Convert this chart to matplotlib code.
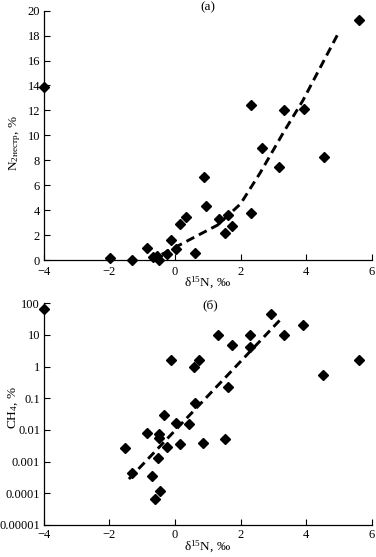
import matplotlib
matplotlib.use("Agg")
import matplotlib.pyplot as plt
from matplotlib.ticker import FixedLocator, FixedFormatter, NullLocator

plt.rcParams['font.family'] = ['Liberation Serif', 'DejaVu Serif']
plt.rcParams['mathtext.fontset'] = 'custom'
plt.rcParams['mathtext.rm'] = 'Liberation Serif'
plt.rcParams['mathtext.it'] = 'Liberation Serif:italic'

# panel (a): d15N vs N2
n2_x = [-4.0, 2.32, 3.33, 3.92, 5.6, 2.65, 3.18, 4.53, 0.9, 0.95, 2.32, 1.63,
        1.33, 1.75, 1.53, 0.35, 0.16, -0.12, 0.04, 0.6, -0.23, -0.85, -0.68,
        -0.55, -0.47, -1.3, -1.97]
n2_y = [13.9, 12.45, 12.05, 12.15, 19.25, 9.0, 7.5, 8.3, 6.65, 4.35, 3.75, 3.65,
        3.25, 2.75, 2.2, 3.45, 2.85, 1.6, 0.9, 0.6, 0.5, 1.0, 0.27,
        0.35, 0.02, 0.03, 0.15]
n2_trend_x = [-0.4, 0.5, 1.3, 2.0, 2.6, 3.3, 3.9, 4.6, 5.0]
n2_trend_y = [0.45, 1.7, 2.8, 4.5, 7.0, 10.2, 12.8, 16.3, 18.3]

# panel (б): d15N vs CH4
ch4_x = [-4.0, 2.93, 3.9, 3.32, 1.32, 2.3, 2.28, 1.74, 5.6, -0.12, 0.75, 0.58,
         4.52, 1.63, 0.62, -0.34, 0.05, 0.42, -0.86, -0.49, -0.47, -1.53,
         -0.23, 0.16, 0.87, 1.53, -0.51, -1.29, -0.69, -0.45, -0.6]
ch4_y = [65, 45, 20.7, 10, 10, 10, 4.3, 4.7, 1.6, 1.6, 1.6, 1.0,
         0.55, 0.22, 0.072, 0.03, 0.016, 0.015, 0.0083, 0.0072, 0.0055, 0.0026,
         0.0028, 0.0035, 0.0038, 0.0051, 0.0013, 0.00045, 0.00036, 0.00012, 0.000066]
ch4_trend_x = [-1.4, 3.2]
ch4_trend_y = [10 ** -3.55, 10 ** 1.47]

n2_ticks = [0, 2, 4, 6, 8, 10, 12, 14, 16, 18, 20]
ch4_ticks = [0.00001, 0.0001, 0.001, 0.01, 0.1, 1, 10, 100]
ch4_labels = ["0.00001", "0.0001", "0.001", "0.01", "0.1", "1", "10", "100"]
x_ticks = [-4, -2, 0, 2, 4, 6]

fig = plt.figure(figsize=(3.76, 5.57), dpi=100)
ax1 = fig.add_axes([0.1157, 0.5332, 0.8733, 0.4476])
ax2 = fig.add_axes([0.1157, 0.0575, 0.8733, 0.398])

for ax in (ax1, ax2):
    ax.spines['top'].set_visible(False)
    ax.spines['right'].set_visible(False)
    ax.spines['left'].set_linewidth(0.9)
    ax.spines['bottom'].set_linewidth(0.9)
    ax.tick_params(direction='in', length=4, width=0.8, labelsize=9)
    ax.tick_params(axis='x', pad=3)
    ax.tick_params(axis='y', pad=2.5)
    ax.set_xlim(-4, 6)
    ax.set_xticks(x_ticks)
ax1.tick_params(axis='x', pad=4)

ax1.plot(n2_x, n2_y, ls='none', marker='D', ms=5.2, color='black', clip_on=False)
ax1.plot(n2_trend_x, n2_trend_y, color='black', lw=2.1, dashes=(3, 1.8))
ax1.set_ylim(0, 20)
ax1.set_yticks(n2_ticks)

ax2.set_yscale('log')
ax2.plot(ch4_x, ch4_y, ls='none', marker='D', ms=5.2, color='black', clip_on=False)
ax2.plot(ch4_trend_x, ch4_trend_y, color='black', lw=2.1, dashes=(3, 1.8))
ax2.set_ylim(0.00001, 100)
ax2.yaxis.set_major_locator(FixedLocator(ch4_ticks))
ax2.yaxis.set_major_formatter(FixedFormatter(ch4_labels))
ax2.yaxis.set_minor_locator(NullLocator())

fig.text(0.553, 0.9865, "(a)", ha='center', va='center', fontsize=9.5)
fig.text(0.5585, 0.4524, "(б)", ha='center', va='center', fontsize=9.5)
fig.text(0.553, 0.492, "δ$^{15}$N, ‰", ha='center', va='center', fontsize=9.5)
fig.text(0.553, 0.018, "δ$^{15}$N, ‰", ha='center', va='center', fontsize=9.5)
fig.text(0.040, 1 - 143 / 557, r"N$_{\mathrm{2нестр}}$, %", ha='center', va='center',
         rotation=90, fontsize=9.5)
fig.text(0.035, 1 - 408 / 557, "CH$_4$, %", ha='center', va='center',
         rotation=90, fontsize=9.5)

fig.savefig("out.png", dpi=100)
